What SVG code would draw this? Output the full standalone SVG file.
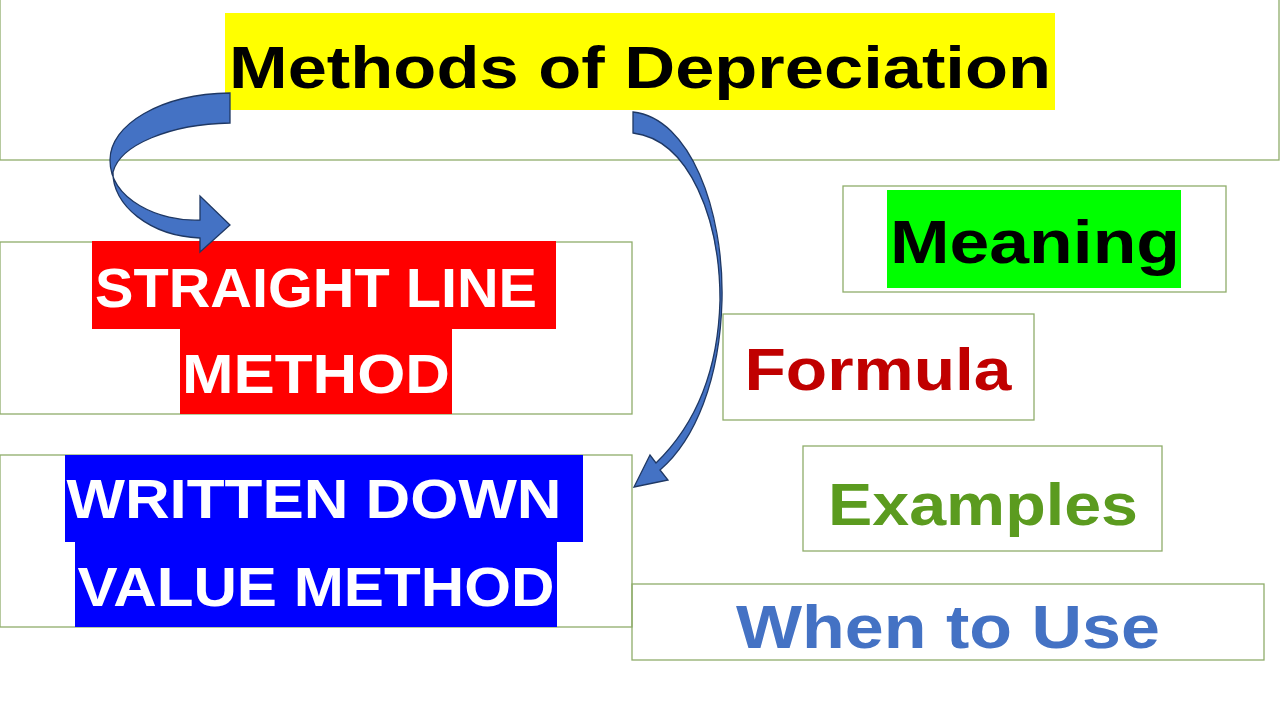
<svg xmlns="http://www.w3.org/2000/svg" width="1280" height="720" viewBox="0 0 1280 720">
<style>
.box{fill:none;stroke:#8fad6a;stroke-width:1.3}
text{font-family:"Liberation Sans",Arial,sans-serif;font-weight:bold;text-anchor:middle}
.arrow{fill:#4472C4;stroke:#1f3864;stroke-width:1.3}
</style>
<rect width="1280" height="720" fill="#fff"/>
<g id="title">
<rect class="box" x="0" y="-2" width="1279" height="162"/>
<rect x="225" y="13" width="830" height="97" fill="#ffff00"/>
<text x="640" y="88" font-size="60" fill="#000" textLength="822" lengthAdjust="spacingAndGlyphs">Methods of Depreciation</text>
</g>
<g id="slm">
<rect class="box" x="0" y="242" width="632" height="172"/>
<rect x="92" y="241" width="464" height="88" fill="#ff0000"/>
<rect x="180" y="328" width="272" height="86" fill="#ff0000"/>
<text x="316" y="307" font-size="56" fill="#fff" textLength="442" lengthAdjust="spacingAndGlyphs">STRAIGHT LINE</text>
<text x="316" y="393" font-size="56" fill="#fff" textLength="268" lengthAdjust="spacingAndGlyphs">METHOD</text>
</g>
<g id="wdv">
<rect class="box" x="0" y="455" width="632" height="172"/>
<rect x="65" y="455" width="518" height="87" fill="#0000ff"/>
<rect x="75" y="541" width="482" height="86" fill="#0000ff"/>
<text x="314" y="518" font-size="56" fill="#fff" textLength="495" lengthAdjust="spacingAndGlyphs">WRITTEN DOWN</text>
<text x="316" y="606" font-size="56" fill="#fff" textLength="477" lengthAdjust="spacingAndGlyphs">VALUE METHOD</text>
</g>
<g id="meaning">
<rect class="box" x="843" y="186" width="383" height="106"/>
<rect x="887" y="190" width="294" height="98" fill="#00ff00"/>
<text x="1035" y="263" font-size="62" fill="#000" textLength="290" lengthAdjust="spacingAndGlyphs">Meaning</text>
</g>
<g id="formula">
<rect class="box" x="723" y="314" width="311" height="106"/>
<text x="878" y="390" font-size="60" fill="#c00000" textLength="267" lengthAdjust="spacingAndGlyphs">Formula</text>
</g>
<g id="examples">
<rect class="box" x="803" y="446" width="359" height="105"/>
<text x="983" y="525" font-size="60" fill="#5b9b1f" textLength="310" lengthAdjust="spacingAndGlyphs">Examples</text>
</g>
<g id="when">
<rect class="box" x="632" y="584" width="632" height="76"/>
<text x="948" y="648" font-size="62" fill="#4472c4" textLength="424" lengthAdjust="spacingAndGlyphs">When to Use</text>
</g>
<g id="connectors">
<path class="arrow" d="M230,93 C160,94 110,125 110,160 C110,200 160,222 200,220 L200,196 L230,225 L200,252 L200,238 C150,236 112,205 113,172 C120,145 170,124 230,123 Z"/>
<path class="arrow" d="M633,112 C690,118 724,210 722,300 C720,380 695,440 660,470 L668,480 L634,487 L650,455 L656,463 C690,430 718,380 720,300 C720,220 690,140 633,133 Z"/>
</g>
</svg>
